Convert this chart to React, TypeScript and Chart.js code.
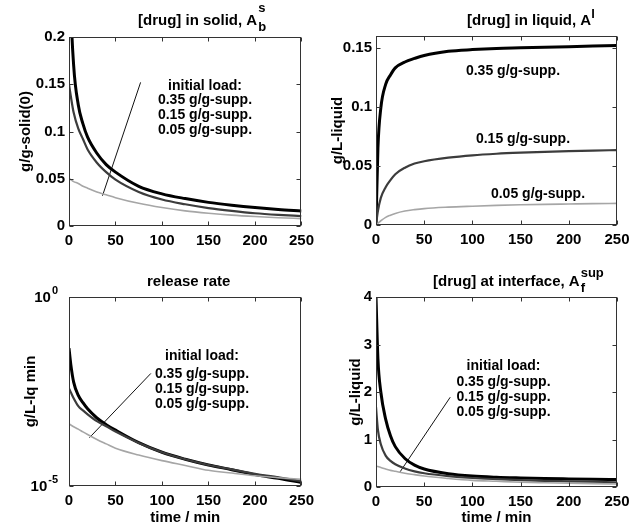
import React, { useEffect, useRef } from 'react';
import { Chart, registerables } from 'chart.js';
Chart.register(...registerables);

const FONT = '"Liberation Sans", Arial, Helvetica, sans-serif';

// ---------- data ----------
const timeMin = [0, 2, 5, 10, 15, 20, 30, 40, 50, 75, 100, 125, 150, 175, 200, 225, 250];
const loadLabels = ['0.35 g/g-supp.', '0.15 g/g-supp.', '0.05 g/g-supp.'];

// [drug] in solid (g/g-solid(0))
const solid035 = [0.35, 0.235, 0.17, 0.128, 0.108, 0.094, 0.077, 0.065, 0.057, 0.042, 0.034, 0.029, 0.025, 0.022, 0.0195, 0.0175, 0.016];
const solid015 = [0.15, 0.137, 0.12, 0.103, 0.092, 0.081, 0.067, 0.057, 0.049, 0.036, 0.028, 0.023, 0.019, 0.016, 0.0135, 0.0118, 0.0105];
const solid005 = [0.05, 0.049, 0.047, 0.045, 0.042, 0.040, 0.036, 0.033, 0.030, 0.024, 0.0195, 0.016, 0.0135, 0.0115, 0.010, 0.0088, 0.0078];

// [drug] in liquid (g/L-liquid)
const liquid035 = [0, 0.065, 0.099, 0.119, 0.127, 0.133, 0.138, 0.141, 0.1435, 0.147, 0.1485, 0.1495, 0.150, 0.1505, 0.151, 0.1515, 0.152];
const liquid015 = [0, 0.012, 0.023, 0.032, 0.038, 0.043, 0.0485, 0.052, 0.054, 0.057, 0.059, 0.0603, 0.0612, 0.0619, 0.0625, 0.063, 0.0634];
const liquid005 = [0, 0.0015, 0.0036, 0.0065, 0.0083, 0.0098, 0.0118, 0.013, 0.0139, 0.0151, 0.0159, 0.0166, 0.0171, 0.0175, 0.0178, 0.0181, 0.0183];

// release rate (g/L-lq min), log scale
const rate035 = [4.4e-2, 1.6e-2, 5.6e-3, 2.5e-3, 1.6e-3, 1.1e-3, 6.3e-4, 4.2e-4, 3.0e-4, 1.4e-4, 7.8e-5, 5.1e-5, 3.6e-5, 2.7e-5, 2.0e-5, 1.6e-5, 1.23e-5];
const rate015 = [3.8e-3, 3.0e-3, 2.1e-3, 1.3e-3, 1.0e-3, 7.9e-4, 5.2e-4, 3.8e-4, 2.75e-4, 1.38e-4, 7.8e-5, 5.1e-5, 3.6e-5, 2.75e-5, 2.1e-5, 1.7e-5, 1.35e-5];
const rate005 = [4.4e-4, 4.1e-4, 3.7e-4, 3.2e-4, 2.7e-4, 2.3e-4, 1.7e-4, 1.3e-4, 1.0e-4, 6.6e-5, 4.7e-5, 3.5e-5, 2.6e-5, 2.2e-5, 1.86e-5, 1.66e-5, 1.5e-5];

// [drug] at interface (g/L-liquid)
const interface035 = [4.0, 2.7, 2.0, 1.43, 1.08, 0.85, 0.6, 0.46, 0.38, 0.28, 0.23, 0.205, 0.19, 0.178, 0.17, 0.163, 0.158];
const interface015 = [1.68, 1.2, 0.9, 0.66, 0.55, 0.48, 0.39, 0.33, 0.29, 0.23, 0.19, 0.165, 0.145, 0.13, 0.12, 0.11, 0.1];
const interface005 = [0.44, 0.43, 0.41, 0.38, 0.35, 0.33, 0.29, 0.26, 0.23, 0.18, 0.14, 0.12, 0.1, 0.088, 0.078, 0.07, 0.064];

// pointer lines from the "initial load" notes to the curves
const pointerSolidX = [36, 77];
const pointerSolidY = [0.032, 0.152];
const pointerRateX = [22, 88];
const pointerRateY = [1.9e-4, 9.5e-3];
const pointerInterfaceX = [25, 77];
const pointerInterfaceY = [0.32, 1.89];

// ---------- helpers ----------
const pts = (xs: number[], ys: number[]) => xs.map((x, i) => ({ x, y: ys[i] }));

const curveSets = (a: number[], b: number[], c: number[]) => [
  { data: pts(timeMin, c), borderColor: '#a6a6a6', borderWidth: 1.6 },
  { data: pts(timeMin, b), borderColor: '#3c3c3c', borderWidth: 2.2 },
  { data: pts(timeMin, a), borderColor: '#000000', borderWidth: 3 },
].map((d) => ({ ...d, pointRadius: 0, cubicInterpolationMode: 'monotone' as const, clip: 0, fill: false }));

const pointerSet = (xs: number[], ys: number[]) => ({
  data: pts(xs, ys), borderColor: '#111', borderWidth: 1, pointRadius: 0, clip: 0, fill: false, tension: 0,
});

type TitleSpec = { x: number; y: number; main: string; sup?: string; sub?: string; supDy?: number; subDy?: number; gap?: number };
type Note = { text: string; cx: number; y: number };
type PanelSpec = {
  left: number; top: number; width: number; height: number;
  padTop: number; padRight: number; yW: number; xH: number;
  yType: 'linear' | 'logarithmic'; yMin: number; yMax: number; yStep?: number;
  datasets: any[];
  title: TitleSpec;
  yTitle: { x: number; text: string };
  xTitle?: { y: number; text: string };
  notes: Note[];
  logLabels?: boolean;
};

const fmt = (v: number) => String(Number(Number(v).toFixed(4)));

function drawDecor(chart: any, spec: PanelSpec) {
  const ctx: CanvasRenderingContext2D = chart.ctx;
  const { left, right, top, bottom } = chart.chartArea;
  const xs = chart.scales.x;
  const ys = chart.scales.y;
  ctx.save();
  // frame
  ctx.strokeStyle = '#333';
  ctx.lineWidth = 1;
  const L = Math.round(left) + 0.5, R = Math.round(right) - 0.5, T = Math.round(top) + 0.5, B = Math.round(bottom) - 0.5;
  ctx.strokeRect(L, T, R - L, B - T);
  // inward ticks on all four sides
  const tl = 4;
  ctx.beginPath();
  xs.ticks.forEach((t: any) => {
    const px = Math.round(xs.getPixelForValue(t.value)) + 0.5;
    ctx.moveTo(px, B); ctx.lineTo(px, B - tl);
    ctx.moveTo(px, T); ctx.lineTo(px, T + tl);
  });
  ys.ticks.forEach((t: any) => {
    const py = Math.round(ys.getPixelForValue(t.value)) + 0.5;
    ctx.moveTo(L, py); ctx.lineTo(L + tl, py);
    ctx.moveTo(R, py); ctx.lineTo(R - tl, py);
  });
  ctx.stroke();

  ctx.fillStyle = '#000';
  // title with sub/superscripts
  const t = spec.title;
  ctx.font = `bold 15px ${FONT}`;
  ctx.textAlign = 'left';
  ctx.textBaseline = 'alphabetic';
  ctx.fillText(t.main, t.x, t.y);
  const mw = ctx.measureText(t.main).width;
  ctx.font = `bold 13px ${FONT}`;
  const g = t.gap ?? 1;
  if (t.sup) ctx.fillText(t.sup, t.x + mw + g, t.y + (t.supDy ?? -9));
  if (t.sub) ctx.fillText(t.sub, t.x + mw + g, t.y + (t.subDy ?? 6));

  // y title
  ctx.font = `bold 15px ${FONT}`;
  ctx.save();
  ctx.translate(spec.yTitle.x, (top + bottom) / 2);
  ctx.rotate(-Math.PI / 2);
  ctx.textAlign = 'center';
  ctx.textBaseline = 'middle';
  ctx.fillText(spec.yTitle.text, 0, 0);
  ctx.restore();

  // x title
  if (spec.xTitle) {
    ctx.textAlign = 'center';
    ctx.textBaseline = 'middle';
    ctx.fillText(spec.xTitle.text, (left + right) / 2, spec.xTitle.y);
  }

  // log tick labels: 10^0 and 10^-5
  if (spec.logLabels) {
    [ys.max, ys.min].forEach((v: number) => {
      const py = ys.getPixelForValue(v);
      const exp = String(Math.round(Math.log10(v)));
      ctx.font = `bold 11px ${FONT}`;
      const expW = ctx.measureText(exp).width;
      ctx.font = `bold 15px ${FONT}`;
      ctx.textAlign = 'right';
      ctx.textBaseline = 'middle';
      const baseRight = left - 12 - expW;
      ctx.fillText('10', baseRight, py + 1);
      ctx.font = `bold 11px ${FONT}`;
      ctx.textAlign = 'left';
      ctx.fillText(exp, baseRight + 1, py - 6);
    });
  }

  // notes
  ctx.font = `bold 14px ${FONT}`;
  ctx.textAlign = 'center';
  ctx.textBaseline = 'middle';
  spec.notes.forEach((n) => ctx.fillText(n.text, n.cx, n.y));
  ctx.restore();
}

function Panel({ spec }: { spec: PanelSpec }) {
  const ref = useRef<HTMLCanvasElement>(null);
  useEffect(() => {
    if (!ref.current) return;
    const step = spec.yStep;
    const chart = new Chart(ref.current, {
      type: 'line',
      data: { datasets: spec.datasets },
      options: {
        animation: false,
        responsive: false,
        devicePixelRatio: 1,
        events: [],
        layout: { padding: { top: spec.padTop, right: spec.padRight, bottom: 0, left: 0 } },
        plugins: { legend: { display: false }, tooltip: { enabled: false }, title: { display: false } },
        scales: {
          x: {
            type: 'linear', min: 0, max: 250,
            grid: { display: false, drawTicks: false },
            border: { display: false },
            ticks: { stepSize: 50, color: '#000', padding: 6, maxRotation: 0, autoSkip: false, font: { family: FONT, size: 15, weight: 'bold' } },
            afterFit: (s: any) => { s.height = spec.xH; },
          },
          y: {
            type: spec.yType, min: spec.yMin, max: spec.yMax,
            grid: { display: false, drawTicks: false },
            border: { display: false },
            ticks: {
              display: !spec.logLabels,
              stepSize: step, color: '#000', padding: 4, autoSkip: false,
              font: { family: FONT, size: 15, weight: 'bold' },
              callback: (v: any) => fmt(v),
            },
            afterBuildTicks: (s: any) => {
              if (spec.logLabels) {
                s.ticks = [{ value: spec.yMin }, { value: spec.yMax }];
              } else if (step) {
                const out: { value: number }[] = [];
                const k0 = Math.ceil(spec.yMin / step - 1e-9);
                const k1 = Math.floor(spec.yMax / step + 1e-9);
                for (let k = k0; k <= k1; k++) out.push({ value: Number((k * step).toFixed(6)) });
                s.ticks = out;
              }
            },
            afterFit: (s: any) => { s.width = spec.yW; },
          },
        },
      } as any,
      plugins: [{ id: 'decor', afterDatasetsDraw: (c: any) => drawDecor(c, spec) }],
    });
    return () => chart.destroy();
  }, [spec]);
  return (
    <canvas
      ref={ref}
      width={spec.width}
      height={spec.height}
      style={{ position: 'absolute', left: spec.left, top: spec.top, width: spec.width, height: spec.height, display: 'block' }}
    />
  );
}

const noteBlock = (cx: number, ys: number[]): Note[] =>
  ['initial load:', ...loadLabels].map((text, i) => ({ text, cx, y: ys[i] }));

const panels: PanelSpec[] = [
  {
    left: 0, top: 0, width: 320, height: 260, padTop: 37, padRight: 12, yW: 69, xH: 34,
    yType: 'linear', yMin: 0, yMax: 0.2, yStep: 0.05,
    datasets: [...curveSets(solid035, solid015, solid005), pointerSet(pointerSolidX, pointerSolidY)],
    title: { x: 138, y: 24.5, main: '[drug] in solid, A', sup: 's', sub: 'b', supDy: -13, subDy: 6.5 },
    yTitle: { x: 25.5, text: 'g/g-solid(0)' },
    notes: noteBlock(205, [86, 100.5, 115, 130]),
  },
  {
    left: 320, top: 0, width: 321, height: 260, padTop: 36, padRight: 24, yW: 56, xH: 35,
    yType: 'linear', yMin: 0, yMax: 0.16, yStep: 0.05,
    datasets: curveSets(liquid035, liquid015, liquid005),
    title: { x: 147, y: 24.5, main: '[drug] in liquid, A', sup: 'l', supDy: -7, gap: 0 },
    yTitle: { x: 18, text: 'g/L-liquid' },
    notes: [
      { text: loadLabels[0], cx: 193, y: 71 },
      { text: loadLabels[1], cx: 203, y: 139 },
      { text: loadLabels[2], cx: 218, y: 194 },
    ],
  },
  {
    left: 0, top: 260, width: 320, height: 269, padTop: 37, padRight: 12, yW: 69, xH: 43,
    yType: 'logarithmic', yMin: 1e-5, yMax: 1,
    datasets: [...curveSets(rate035, rate015, rate005), pointerSet(pointerRateX, pointerRateY)],
    title: { x: 147, y: 26, main: 'release rate' },
    yTitle: { x: 30.5, text: 'g/L-lq min' },
    xTitle: { y: 258, text: 'time / min' },
    notes: noteBlock(202, [96, 114, 129, 144]),
    logLabels: true,
  },
  {
    left: 320, top: 260, width: 321, height: 269, padTop: 37, padRight: 24, yW: 56, xH: 42,
    yType: 'linear', yMin: 0, yMax: 4, yStep: 1,
    datasets: [...curveSets(interface035, interface015, interface005), pointerSet(pointerInterfaceX, pointerInterfaceY)],
    title: { x: 113, y: 25.5, main: '[drug] at interface, A', sup: 'sup', sub: 'f', supDy: -8.5, subDy: 6 },
    yTitle: { x: 35.5, text: 'g/L-liquid' },
    xTitle: { y: 258, text: 'time / min' },
    notes: noteBlock(183.5, [106, 122, 137, 152]),
  },
];

export default function App() {
  return (
    <div style={{ position: 'absolute', left: 0, top: 0, width: 641, height: 529, background: '#fff' }}>
      {panels.map((p, i) => <Panel key={i} spec={p} />)}
    </div>
  );
}
